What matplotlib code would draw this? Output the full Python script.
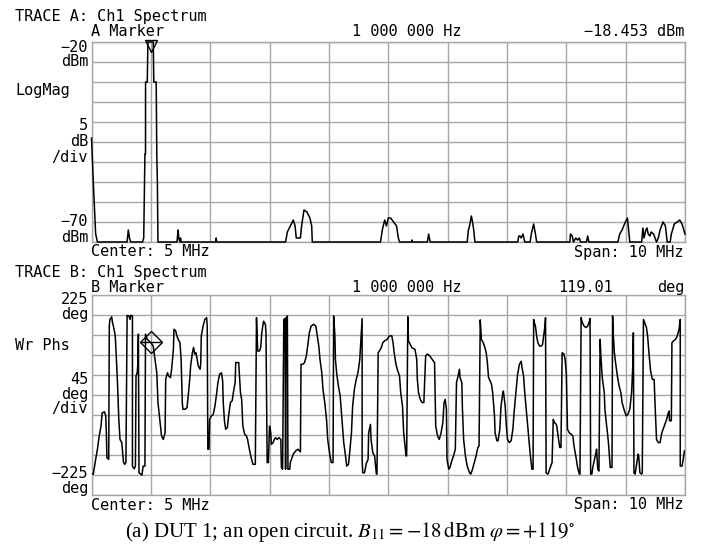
import numpy as np
import matplotlib
matplotlib.use("Agg")
import matplotlib.pyplot as plt

# Trace A: log magnitude spectrum (MHz, dBm)
freq_a = [0.00, 0.03, 0.07, 0.10, 0.60, 0.62, 0.64, 0.66,
          0.86, 0.88, 0.90, 0.91, 0.911, 0.94, 0.95, 1.00, 1.04, 1.05, 1.09, 1.10, 1.11, 1.12,
          1.44, 1.46, 1.47, 1.49, 1.50, 1.51, 2.09, 2.10, 2.11,
          3.27, 3.30, 3.35, 3.40, 3.43, 3.45, 3.52, 3.54, 3.58, 3.63, 3.68, 3.71, 3.72,
          4.87, 4.90, 4.94, 4.97, 5.00, 5.04, 5.09, 5.14, 5.17, 5.19,
          5.39, 5.40, 5.41, 5.66, 5.68, 5.70, 5.71,
          6.33, 6.35, 6.37, 6.40, 6.42, 6.44, 6.46,
          7.18, 7.20, 7.22, 7.24, 7.27, 7.30, 7.39, 7.41, 7.45, 7.48, 7.50,
          8.06, 8.07, 8.10, 8.12, 8.16, 8.19, 8.22, 8.24, 8.34, 8.36, 8.38,
          8.87, 8.90, 8.94, 8.98, 9.03, 9.05, 9.07, 9.27, 9.29, 9.31, 9.34, 9.36, 9.38,
          9.41, 9.43, 9.47, 9.52, 9.55, 9.58, 9.63, 9.67, 9.70, 9.75, 9.77, 9.82, 9.87,
          9.91, 9.95, 9.98, 10.00]
mag_a = [-44, -55, -68, -70, -70, -67, -69, -70,
         -70, -69, -48, -48, -30, -30, -19, -18.453, -19, -30, -30, -48, -55, -70,
         -70, -67, -69, -70, -69, -70, -70, -69, -70,
         -70, -67.5, -66, -64.5, -66, -69, -69, -66, -62, -62.5, -64, -66, -70,
         -70, -67, -64.5, -66, -64, -64, -65, -66, -69, -70,
         -70, -69.5, -70, -70, -68, -69.5, -70,
         -70, -67, -66, -63.5, -65, -67, -70,
         -70, -68.5, -68.5, -69, -68, -70, -70, -68, -65.5, -68, -70,
         -70, -68, -68.5, -70, -69, -69.5, -69, -70, -70, -68.5, -70,
         -70, -68, -67, -65.5, -64, -67, -70, -70, -66.5, -69, -67, -66.5, -68,
         -68.5, -67.5, -68, -70, -69, -67, -65, -66, -70, -70, -68, -65.5, -65,
         -64.5, -65.5, -67, -68]

# Trace B: wrapped phase (MHz, deg)
freq_b = [0.00, 0.03, 0.07, 0.10, 0.13, 0.16, 0.18, 0.22, 0.24, 0.25, 0.26, 0.29, 0.30, 0.31,
          0.34, 0.35, 0.38, 0.40, 0.42, 0.44, 0.46, 0.48, 0.51, 0.52, 0.54, 0.56, 0.58, 0.60,
          0.63, 0.65, 0.66, 0.69, 0.69, 0.72, 0.74, 0.75, 0.77, 0.78, 0.79, 0.80, 0.83, 0.85,
          0.87, 0.90, 0.91, 0.94, 1.00, 1.04, 1.07, 1.10, 1.12, 1.15, 1.18, 1.21, 1.24, 1.25,
          1.28, 1.30, 1.33, 1.35, 1.38, 1.39, 1.42, 1.43, 1.46, 1.49, 1.51, 1.52, 1.53, 1.54,
          1.58, 1.61, 1.64, 1.66, 1.67, 1.70, 1.72, 1.74, 1.76, 1.78, 1.80, 1.83, 1.84, 1.85,
          1.88, 1.91, 1.94, 1.95, 1.96, 1.98, 1.99, 2.02, 2.05, 2.08, 2.11, 2.13, 2.16, 2.19,
          2.21, 2.22, 2.24, 2.26, 2.29, 2.31, 2.34, 2.37, 2.39, 2.42, 2.43, 2.46, 2.48,
          2.51, 2.53, 2.55, 2.58, 2.61, 2.63, 2.66, 2.69, 2.72, 2.76, 2.78, 2.79, 2.80, 2.83,
          2.85, 2.87, 2.89, 2.90, 2.93, 2.94, 2.96, 2.98, 3.00, 3.02, 3.03, 3.06, 3.08, 3.10,
          3.13, 3.16, 3.19, 3.20, 3.22, 3.24, 3.26, 3.27, 3.28, 3.30, 3.31, 3.34, 3.35, 3.38,
          3.40, 3.44, 3.48, 3.52, 3.53, 3.56, 3.59, 3.62, 3.65, 3.67, 3.70, 3.74, 3.78, 3.80,
          3.83, 3.85, 3.88, 3.90, 3.93, 3.96, 3.98, 4.01, 4.04, 4.07, 4.08, 4.10, 4.11, 4.13,
          4.16, 4.19, 4.22, 4.25, 4.28, 4.30, 4.33, 4.35, 4.38, 4.40, 4.43, 4.46, 4.49, 4.52,
          4.54, 4.56, 4.56, 4.57, 4.60, 4.63, 4.66, 4.67, 4.70, 4.71, 4.74, 4.77, 4.80, 4.81,
          4.83, 4.85, 4.88, 4.91, 4.94, 4.98,
          5.02, 5.06, 5.08, 5.10, 5.13, 5.16, 5.19, 5.21, 5.24, 5.26, 5.28, 5.30, 5.31, 5.33,
          5.34, 5.37, 5.40, 5.45, 5.48, 5.49, 5.51, 5.54, 5.57, 5.60, 5.62, 5.63, 5.66, 5.70,
          5.74, 5.78, 5.79, 5.80, 5.83, 5.86, 5.89, 5.92, 5.94, 5.96, 5.98, 5.99, 6.02, 6.04,
          6.07, 6.10, 6.13, 6.15, 6.17, 6.20, 6.21, 6.24, 6.25, 6.27, 6.30, 6.33, 6.37, 6.39,
          6.42, 6.45, 6.48, 6.51, 6.53, 6.55, 6.57, 6.60, 6.63, 6.65, 6.67, 6.69, 6.72, 6.74,
          6.76, 6.79, 6.80, 6.83, 6.85, 6.88, 6.90, 6.93, 6.94, 6.97, 6.99, 7.01, 7.04, 7.07,
          7.10, 7.12, 7.15, 7.18, 7.21, 7.24, 7.25, 7.28, 7.30, 7.33, 7.36, 7.39, 7.42, 7.44,
          7.45, 7.46, 7.48, 7.50, 7.52, 7.55, 7.58, 7.60, 7.63, 7.64, 7.65, 7.66, 7.69, 7.70,
          7.73, 7.76, 7.78, 7.80, 7.83, 7.84, 7.87, 7.89, 7.91, 7.93, 7.96, 7.98, 8.00, 8.02,
          8.05, 8.08, 8.11, 8.13, 8.15, 8.17, 8.19, 8.22, 8.23, 8.25, 8.27, 8.30, 8.33, 8.36,
          8.39, 8.40, 8.41, 8.43, 8.45, 8.47, 8.49, 8.50, 8.51, 8.53, 8.55, 8.57, 8.58, 8.60,
          8.61, 8.64, 8.65, 8.68, 8.71, 8.74, 8.77, 8.78, 8.79, 8.81, 8.83, 8.86, 8.89, 8.92,
          8.94, 8.98, 9.01, 9.04, 9.07, 9.10, 9.12, 9.13, 9.14, 9.16, 9.18, 9.21, 9.22, 9.24,
          9.27, 9.28, 9.30, 9.32, 9.35, 9.37, 9.39, 9.42, 9.45, 9.48, 9.50, 9.52, 9.55, 9.58,
          9.59, 9.61, 9.65, 9.69, 9.72, 9.73, 9.74, 9.77, 9.78, 9.81, 9.84, 9.87, 9.90, 9.92,
          9.92, 9.95, 9.97, 9.99]
phase_b = [-178, -178, -145, -122, -92, -70, -40, -38, -47, -85, -141, -145, 155, 170,
           176, 166, 148, 133, 80, 20, -55, -100, -107, -122, -152, -156, -152, 179,
           178, 170, 179, 178, -160, -166, -160, 43, 50, 69, 137, -175, -178, -180,
           -160, -160, 137, 125, 118, 110, 80, 50, -17, -55, -92, -100, -85, 35,
           50, 43, 39, 58, 103, 148, 144, 137, 125, 118, 80, 35, -17, -32,
           -32, -28, 13, 43, 65, 95, 107, 92, 95, 80, 65, 58, 69, 133,
           155, 170, 174, 155, -122, -122, -55, -47, -44, -25, 5, 28, 47, 50,
           31, -17, -58, -77, -73, -47, -17, -13, 5, 28, 73, 73, 73,
           5, -10, -70, -88, -92, -100, -122, -141, -156, -156, 174, 133, 99, 99,
           106, 140, 159, 166, 159, 140, -152, -152, -70, -85, -111, -107, -100, -96,
           -100, -96, -100, -163, -167, 170, 172, -167, 174, 178, -167, -167, -152, -141,
           -133, -126, -122, -128, 69, 69, 73, 88, 118, 140, 155, 159, 155, 137,
           110, 80, 50, 13, -17, -55, -100, -130, -152, -152, 178, 137, 80, 50,
           20, -2, -55, -107, -137, -160, -156, -130, -85, -25, 13, 35, 50, 80,
           125, 172, -145, -175, -175, -154, -145, -85, -66, -100, -130, -137, -178, -178,
           95, 99, 106, 118, 122, 125,
           133, 133, 118, 95, 69, 54, 43, 5, -25, -85, -111, -137, -137, 176,
           122, 114, 106, 103, 80, 35, 5, -10, -17, -17, 50, 88, 92, 88,
           80, 73, 5, -70, -92, -100, -85, -62, -17, -10, -32, -145, -167, -163,
           -148, -137, -122, 28, 39, 58, 39, 28, -32, -100, -137, -160, -175, -178,
           -167, -152, -137, -118, -115, 169, 125, 118, 106, 95, 73, 39, 31, 24,
           5, -47, -85, -103, -103, -77, -25, 5, 9, -25, -70, -100, -107, -103,
           -77, -40, 5, 47, 69, 76, 65, 43, 5, -40, -85, -130, -167, -167,
           170, 163, 155, 133, 118, 110, 110, 114, 144, 155, 174, -175, -178, -175,
           -163, -152, -55, -62, -66, -70, -100, -118, -118, 95, 92, 80, 50, -77,
           -85, -88, -92, -115, -130, -145, -163, -178, -178, 174, 163, 155, 152, 155,
           166, 172, -178, -178, -160, -148, -137, -130, -122, -167, -171, 125, 95, 50,
           35, 5, -32, -70, -107, -163, -163, 178, 140, 95, 73, 43, 20, 5,
           -17, -36, -47, -43, -32, 5, 65, 140, -175, -178, -160, -133, -137, -175,
           -178, -175, 170, 163, 152, 133, 99, 54, 35, 35, -36, -100, -107, -107,
           -100, -85, -70, -55, -40, -36, -58, -58, 118, 122, 125, 133, 148, 170,
           -160, -160, -145, -126]

marker_freq = 1.0
marker_mag = -18.453
marker_phase = 119.01

plt.rcParams["font.family"] = "DejaVu Sans Mono"
plt.rcParams["mathtext.fontset"] = "stix"

W, H = 702, 548
fig = plt.figure(figsize=(W / 100, H / 100), dpi=100)
grid_color = "#a6a6a6"
FS = 11


def make_axes(top_px, bottom_px):
    ax = fig.add_axes([91.5 / W, 1 - bottom_px / H, (685 - 91.5) / W, (bottom_px - top_px) / H])
    ax.set_xlim(0, 10)
    ax.set_xticks(np.arange(0, 11, 1))
    ax.tick_params(length=0, labelbottom=False, labelleft=False)
    ax.grid(True, color=grid_color, linewidth=1.0)
    for s in ax.spines.values():
        s.set_color(grid_color)
        s.set_linewidth(1.0)
    return ax


def px_text(x, y, s, ha="left", size=FS, **kw):
    fig.text(x / W, 1 - y / H, s, ha=ha, va="center", fontsize=size, **kw)


# --- Trace A ---
ax1 = make_axes(42, 242)
ax1.set_ylim(-70, -20)
ax1.set_yticks(np.arange(-70, -19, 5))
ax1.plot(freq_a, np.clip(mag_a, -70, -20), color="black", linewidth=1.1, clip_on=False, zorder=3)
ax1.plot([marker_freq], [-21], marker="v", ms=8, mfc="none", mec="black", mew=1.0, clip_on=False, zorder=4)

# --- Trace B ---
ax2 = make_axes(295, 495)
ax2.set_ylim(-225, 225)
ax2.set_yticks(np.arange(-225, 226, 45))
ax2.plot(freq_b, phase_b, color="black", linewidth=1.1, zorder=3)
ax2.plot([marker_freq], [marker_phase], marker="D", ms=11, mfc="none", mec="black", mew=1.0, zorder=4)
ax2.plot([marker_freq], [marker_phase], marker="_", ms=15, mec="black", mew=1.0, zorder=4)

# header / annotation text
px_text(15, 16, "TRACE A: Ch1 Spectrum")
px_text(91, 31.5, "A Marker")
px_text(352, 31.5, "1 000 000 Hz")
px_text(684, 31.5, "\u221218.453 dBm", ha="right")
px_text(88, 47, "\u221220", ha="right")
px_text(88, 61, "dBm", ha="right")
px_text(15, 91, "LogMag")
px_text(88, 125, "5", ha="right")
px_text(88, 142, "dB", ha="right")
px_text(88, 157, "/div", ha="right")
px_text(88, 222, "\u221270", ha="right")
px_text(88, 237, "dBm", ha="right")
px_text(91, 252, "Center: 5 MHz")
px_text(684, 252, "Span: 10 MHz", ha="right")

px_text(15, 272, "TRACE B: Ch1 Spectrum")
px_text(91, 287, "B Marker")
px_text(352, 287, "1 000 000 Hz")
px_text(558, 287, "119.01")
px_text(684, 287, "deg", ha="right")
px_text(88, 300, "225", ha="right")
px_text(88, 314, "deg", ha="right")
px_text(15, 346, "Wr Phs")
px_text(88, 380, "45", ha="right")
px_text(88, 394, "deg", ha="right")
px_text(88, 409, "/div", ha="right")
px_text(88, 474, "\u2212225", ha="right")
px_text(88, 489, "deg", ha="right")
px_text(91, 505, "Center: 5 MHz")
px_text(684, 505, "Span: 10 MHz", ha="right")

fig.text(350 / W, 1 - 532 / H,
         r"(a) DUT 1; an open circuit. $B_{11} = -18\,\mathrm{dBm}\ \varphi = +119^{\circ}$",
         ha="center", va="center", fontsize=15, family="Liberation Serif")

fig.savefig("out.png", dpi=100)
